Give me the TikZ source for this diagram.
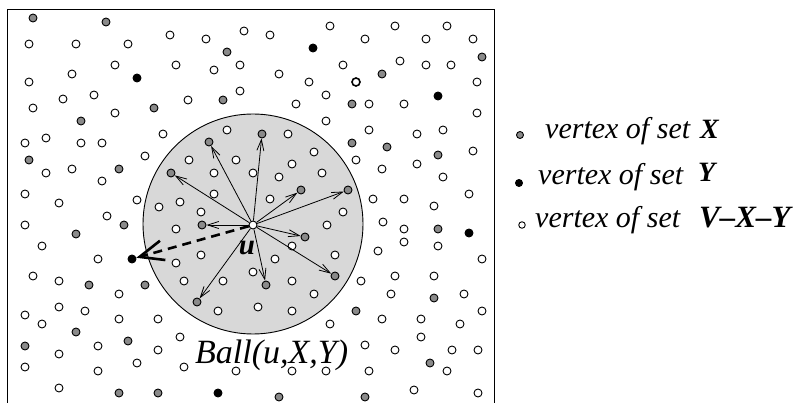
\documentclass[tikz,border=0pt]{standalone}
\usepackage{fontspec}
\setmainfont{Liberation Serif}
\definecolor{ballgray}{RGB}{216,216,216}
\definecolor{xgray}{RGB}{138,138,138}
\usetikzlibrary{arrows.meta}
\tikzset{
  vtx/.style={circle, draw=black, line width=0.9pt, minimum size=8pt, inner sep=0pt},
  vx/.style={vtx, fill=xgray},
  vy/.style={vtx, fill=black},
  vo/.style={vtx, fill=white},
  ray/.style={line width=0.8pt, -{Straight Barb[length=11pt,width=7pt,line width=0.8pt]}},
  legtext/.style={anchor=base west, font=\fontsize{30}{33}\selectfont\itshape, inner sep=0pt},
  legset/.style={anchor=base west, font=\fontsize{28}{31}\selectfont\bfseries\itshape, inner sep=0pt},
}

\begin{document}
\begin{tikzpicture}[x=1pt, y=-1pt]
    \useasboundingbox (0,0) rectangle (798,403);
    \draw[line width=0.9pt] (7,403) -- (7,9) -- (494,9) -- (494,403);
    \node[circle, draw, fill=ballgray, line width=0.9pt, minimum size=220pt, inner sep=0pt] (ball) at (253,224) {};
    % vertices of V-X-Y
    \foreach \px/\py [count=\i] in {29/44, 76/44, 128/44, 170/35, 115/65, 72/74, 29/82, 94/95, 63/99, 33/108,
        115/113, 163/134, 25/143, 46/138, 81/143, 102/143, 145/156, 46/173, 72/169, 102/181, 25/194, 59/203, 137/200,
        206/39, 244/31, 270/35, 330/26, 176/65, 214/70, 240/65, 279/74, 309/82, 326/95, 188/100, 240/91, 296/104, 326/121,
        365/39, 395/26, 447/26, 426/39, 473/39, 343/65, 400/61, 426/65, 451/65, 477/82, 369/104, 404/104, 477/113,
        369/130, 417/134, 443/130, 356/160, 382/169, 417/164, 473/151, 443/177, 373/199, 404/199, 434/206, 469/194,
        25/225, 107/216, 42/246, 98/259, 33/276, 59/281, 119/294, 25/315, 42/324, 59/307, 85/311, 119/319, 158/319,
        59/354, 98/346, 158/350, 25/367, 137/363, 98/371, 59/388,
        180/337, 184/367, 236/371, 292/371, 326/371, 330/324,
        383/222, 404/229, 404/242, 438/246, 378/251, 482/259, 361/281, 395/276, 434/276, 391/294, 464/294, 482/311,
        382/319, 421/319, 460/324, 421/337, 365/345, 395/350, 452/350, 478/350, 447/371, 369/371, 414/390, 478/393,
        227/130, 288/134, 314/152, 189/160, 236/160, 292/164, 214/173, 253/173, 279/177, 322/173, 214/194, 180/202,
        270/199, 159/207, 343/212, 201/212, 176/229, 327/225, 292/246, 201/255, 176/263, 275/259, 335/255, 253/272,
        184/281, 223/281, 292/281, 314/294, 218/311, 258/307, 292/311}
      \node[vo] (o\i) at (\px,\py) {};
    \node[vo, line width=1.6pt] (othick) at (356,82) {};
    % vertices of X
    \foreach \px/\py [count=\i] in {33/18, 106/22, 154/108, 81/121, 29/160, 119/169, 227/52, 223/100, 482/57, 382/74,
        352/104, 352/143, 387/147, 438/155, 124/225, 76/234, 89/285, 145/285, 76/332, 25/346, 128/341, 119/393,
        158/393, 279/397, 438/229, 434/298, 356/311, 430/363, 365/397}
      \node[vx] (x\i) at (\px,\py) {};
    % vertices of Y
    \foreach \px/\py [count=\i] in {137/78, 313/48, 438/96, 469/233, 218/393}
      \node[vy] (y\i) at (\px,\py) {};
    \node[vy] (ytarget) at (132,259) {};
    % X vertices reached from u
    \foreach \px/\py [count=\i] in {171/173, 209/142, 262/134, 301/190, 348/190, 202/225, 305/237, 335/276, 266/285, 197/302}
      \node[vx] (t\i) at (\px,\py) {};
    \node[vo] (u) at (253,225) {};
    \foreach \i in {1,...,10}
      \draw[ray] (u) -- (t\i);
    \draw[line width=2.6pt, dash pattern=on 9pt off 6pt, -{Straight Barb[length=24pt,width=20pt,line width=2.6pt]}] (u) -- (ytarget);
    \node[anchor=base, font=\fontsize{29}{32}\selectfont\bfseries\itshape, inner sep=0pt] (ulabel) at (247,255) {u};
    \node[anchor=base west, font=\fontsize{34}{37}\selectfont\itshape, inner sep=0pt] (balllabel) at (195,363) {Ball(u,X,Y)};
    % legend
    \node[vx, minimum size=7pt] (legx) at (520,135) {};
    \node[vy, minimum size=7pt] (legy) at (519,183) {};
    \node[vo, minimum size=6.5pt] (lego) at (522,225) {};
    \node[legtext] (legxtext) at (545,139) {vertex of set};
    \node[legtext] (legytext) at (538,185) {vertex of set};
    \node[legtext] (legotext) at (535,228) {vertex of set};
    \node[legset] (legxset) at (700,139) {X};
    \node[legset] (legyset) at (698,182) {Y};
    \node[legset, font=\fontsize{31}{34}\selectfont\bfseries\itshape] (legoset) at (699,228) {V--X--Y};
\end{tikzpicture}
\end{document}
